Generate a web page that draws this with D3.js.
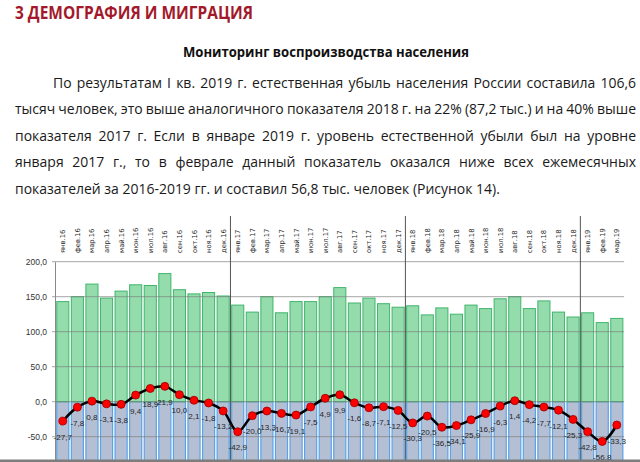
<!DOCTYPE html>
<html>
<head>
<meta charset="utf-8">
<script src="https://cdn.jsdelivr.net/npm/d3@7"></script>
<style>
  body { margin: 0; background: #fff; }
  svg { display: block; }
</style>
</head>
<body>
<div id="chart"></div>
<script>
const months = [
  "янв.16", "фев.16", "мар.16", "апр.16", "май.16", "июн.16", "июл.16", "авг.16", "сен.16", "окт.16", "ноя.16", "дек.16",
  "янв.17", "фев.17", "мар.17", "апр.17", "май.17", "июн.17", "июл.17", "авг.17", "сен.17", "окт.17", "ноя.17", "дек.17",
  "янв.18", "фев.18", "мар.18", "апр.18", "май.18", "июн.18", "июл.18", "авг.18", "сен.18", "окт.18", "ноя.18", "дек.18",
  "янв.19", "фев.19", "мар.19"
];
// births, thousands (green bars)
const births = [
  143, 150, 168, 148, 158, 167, 166, 183, 160, 154, 156, 151,
  138, 128, 150, 127, 143, 143, 150, 163, 141, 148, 140, 135,
  137, 124, 134, 125, 138, 133, 147, 150, 133, 144, 128, 121,
  127, 113, 119
];
// deaths, thousands, shown downwards (blue bars, run off the bottom)
const deaths = [
  -171, -158, -167, -151, -162, -158, -147, -161, -150, -152, -158, -164,
  -181, -148, -163, -144, -162, -151, -145, -153, -143, -157, -147, -148,
  -167, -145, -171, -159, -164, -150, -153, -149, -137, -152, -140, -146,
  -170, -170, -152
];
// natural increase, thousands (line)
const increase = [
  -27.7, -7.8, 0.8, -3.1, -3.8, 9.4, 18.9, 21.9, 10.0, 2.1, -1.8, -13.2,
  -42.9, -20.0, -13.3, -16.7, -19.1, -7.5, 4.9, 9.9, -1.6, -8.7, -7.1, -12.5,
  -30.3, -20.5, -36.5, -34.1, -25.9, -16.9, -6.3, 1.4, -4.2, -7.7, -12.1, -25.3,
  -42.8, -56.8, -33.3
];
const yTicks = [-50, 0, 50, 100, 150, 200];
const yearStarts = ["янв.17", "янв.18", "янв.19"];

const heading = "3 ДЕМОГРАФИЯ И МИГРАЦИЯ";
const subheading = "Мониторинг воспроизводства населения";
const paragraph = [
  "По результатам I кв. 2019 г. естественная убыль населения России составила 106,6",
  "тысяч человек, это выше аналогичного показателя 2018 г. на 22% (87,2 тыс.) и на 40% выше",
  "показателя 2017 г. Если в январе 2019 г. уровень естественной убыли был на уровне",
  "января 2017 г., то в феврале данный показатель оказался ниже всех ежемесячных",
  "показателей за 2016-2019 гг. и составил 56,8 тыс. человек (Рисунок 14)."
];

const W = 640, H = 462;
const fmt = d3.formatLocale({decimal: ",", thousands: " ", grouping: [3], currency: ["", ""], minus: "-"}).format(".1f");

const svg = d3.select("#chart").append("svg")
  .attr("width", W)
  .attr("height", H);

// ---- text block ----
const textFont = "'Open Sans', 'Noto Sans', sans-serif";

svg.append("text")
  .attr("x", 15).attr("y", 18.5)
  .attr("fill", "#a3192b")
  .style("font-family", textFont)
  .style("font-weight", 700)
  .style("font-size", "18px")
  .attr("textLength", 238)
  .attr("lengthAdjust", "spacingAndGlyphs")
  .text(heading);

svg.append("text")
  .attr("x", 183).attr("y", 56.7)
  .attr("fill", "#111")
  .style("font-family", textFont)
  .style("font-weight", 700)
  .style("font-size", "14px")
  .attr("textLength", 286)
  .attr("lengthAdjust", "spacingAndGlyphs")
  .text(subheading);

const lineY = [87.7, 114.2, 140.7, 167.2, 193.7];
const lineX = [53, 15, 15, 15, 15];
const rightEdge = 636;

// pick a font size so the last (unjustified) line has the reference width
const probe = svg.append("text")
  .style("font-family", textFont).style("font-size", "12px")
  .text(paragraph[4]);
const paraSize = 12 * 485 / probe.node().getComputedTextLength();
probe.remove();

paragraph.forEach((line, i) => {
  const g = svg.append("g")
    .style("font-family", textFont)
    .style("font-size", paraSize + "px")
    .attr("fill", "#1a1a1a");
  if (i === paragraph.length - 1) {
    g.append("text").attr("x", lineX[i]).attr("y", lineY[i]).text(line);
    return;
  }
  const words = line.split(" ");
  const nodes = words.map(w => g.append("text").attr("y", lineY[i]).text(w));
  const widths = nodes.map(n => n.node().getComputedTextLength());
  const gap = (rightEdge - lineX[i] - d3.sum(widths)) / (words.length - 1);
  let cx = lineX[i];
  nodes.forEach((n, k) => {
    n.attr("x", cx);
    cx += widths[k] + gap;
  });
});

// ---- chart ----
const x = d3.scaleBand()
  .domain(months)
  .range([55.5, 624.1])
  .paddingInner(0.17)
  .paddingOuter(0.085);
const y = d3.scaleLinear()
  .domain([-200, 200])
  .range([541.7, 261.7]);
const bw = x.bandwidth();

const data = months.map((m, i) => ({m: m, b: births[i], d: deaths[i], v: increase[i]}));

svg.append("g").selectAll("rect")
  .data(data)
  .join("rect")
  .attr("x", d => x(d.m))
  .attr("y", y(0))
  .attr("width", bw)
  .attr("height", d => y(d.d) - y(0))
  .attr("fill", "#b5bfd4")
  .attr("stroke", "#5aa2e6")
  .attr("stroke-width", 1.2);

svg.append("g").selectAll("rect")
  .data(data)
  .join("rect")
  .attr("x", d => x(d.m))
  .attr("y", d => y(d.b))
  .attr("width", bw)
  .attr("height", d => y(0) - y(d.b))
  .attr("fill", "#95dcad")
  .attr("stroke", "#3fb56c")
  .attr("stroke-width", 1);

// gridlines
svg.append("g").selectAll("line")
  .data(yTicks)
  .join("line")
  .attr("x1", 52).attr("x2", 624.1)
  .attr("y1", d => y(d)).attr("y2", d => y(d))
  .attr("stroke", "#7a7a7a")
  .attr("stroke-opacity", 0.75)
  .attr("stroke-width", 0.9);

// y axis
const yAxis = svg.append("g")
  .attr("transform", "translate(55,0)")
  .call(d3.axisLeft(y).tickValues(yTicks).tickSize(0).tickSizeOuter(0).tickPadding(8).tickFormat(fmt));
yAxis.select(".domain").attr("stroke", "#8a8a8a");
yAxis.selectAll("text")
  .style("font-family", "'Liberation Sans', Arial, sans-serif")
  .style("font-size", "8.5px")
  .attr("fill", "#333");

// month labels
svg.append("g").selectAll("text")
  .data(months)
  .join("text")
  .attr("transform", d => `translate(${x(d) + bw / 2 + 2.5},253) rotate(-90)`)
  .style("font-family", "'DejaVu Sans', Verdana, sans-serif")
  .style("font-size", "6.8px")
  .attr("fill", "#2a2a2a")
  .text(d => d);

// year dividers
svg.append("g").selectAll("line")
  .data(yearStarts)
  .join("line")
  .attr("x1", d => x(d) - x.step() * x.paddingInner() / 2)
  .attr("x2", d => x(d) - x.step() * x.paddingInner() / 2)
  .attr("y1", 216).attr("y2", H)
  .attr("stroke", "#555")
  .attr("stroke-width", 1);

// natural increase line
const line = d3.line()
  .x(d => x(d.m) + bw / 2)
  .y(d => y(d.v))
  .curve(d3.curveCatmullRom.alpha(0.5));

svg.append("path")
  .datum(data)
  .attr("fill", "none")
  .attr("stroke", "#000")
  .attr("stroke-width", 2.5)
  .attr("stroke-linejoin", "round")
  .attr("d", line);

svg.append("g").selectAll("circle")
  .data(data)
  .join("circle")
  .attr("cx", d => x(d.m) + bw / 2)
  .attr("cy", d => y(d.v))
  .attr("r", 4)
  .attr("fill", "#ff0000")
  .attr("stroke", "#9a0000")
  .attr("stroke-width", 0.8);

svg.append("g").selectAll("text")
  .data(data)
  .join("text")
  .attr("x", d => x(d.m) + bw / 2)
  .attr("y", d => y(d.v) + 16)
  .attr("text-anchor", "middle")
  .attr("dominant-baseline", "central")
  .style("font-family", "'Liberation Sans', Arial, sans-serif")
  .style("font-size", "8.1px")
  .attr("fill", "#262626")
  .text(d => fmt(d.v));

// grey strip along the bottom edge
svg.append("rect")
  .attr("x", 0).attr("y", 459.5)
  .attr("width", W).attr("height", 2.5)
  .attr("fill", "#7d7d7d");
</script>
</body>
</html>
